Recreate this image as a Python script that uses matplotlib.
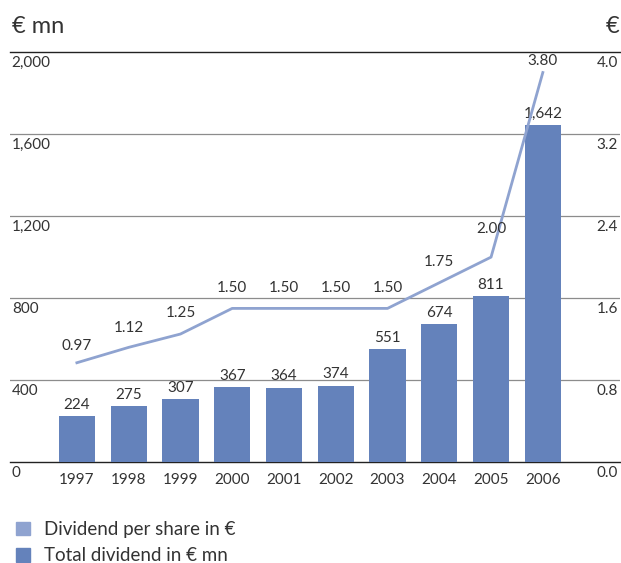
import matplotlib
matplotlib.use('Agg')
import matplotlib.pyplot as plt
from matplotlib.patches import Patch

plt.rcParams['font.family'] = ['Lato', 'DejaVu Sans']

years = ['1997', '1998', '1999', '2000', '2001', '2002', '2003', '2004', '2005', '2006']
total_div = [224, 275, 307, 367, 364, 374, 551, 674, 811, 1642]
div_per_share = [0.97, 1.12, 1.25, 1.50, 1.50, 1.50, 1.50, 1.75, 2.00, 3.80]
left_ticks = [0, 400, 800, 1200, 1600, 2000]
right_ticks = [0.0, 0.8, 1.6, 2.4, 3.2, 4.0]

bar_col = '#6482bb'
line_col = '#8fa3d0'
txt_col = '#333333'
fs = 11

fig = plt.figure(figsize=(6.21, 5.63), dpi=100)
ax = fig.add_axes([0.016, 0.179, 0.982, 0.7286])
x = list(range(len(years)))

# grid lines behind bars
for v in left_ticks:
    if v in (0, 2000):
        ax.axhline(v, color='#222222', lw=1.0, zorder=0, clip_on=False)
    else:
        ax.axhline(v, color='#8c8c8c', lw=0.9, zorder=0)

ax.bar(x, total_div, width=0.7, color=bar_col, zorder=2)
for xi, v in zip(x, total_div):
    ax.annotate(f'{v:,}', (xi, v), xytext=(0, 3), textcoords='offset points',
                ha='center', va='bottom', fontsize=fs, color=txt_col)

ax.set_xlim(-1.293, 10.486)
ax.set_ylim(0, 2000)
ax.set_xticks(x)
ax.set_xticklabels(years, fontsize=fs, color=txt_col)
ax.tick_params(axis='x', length=0, pad=8)
ax.set_yticks([])
for s in ax.spines.values():
    s.set_visible(False)

for v in left_ticks:
    ax.annotate(f'{v:,}', (0.003, v), xycoords=ax.get_yaxis_transform(),
                xytext=(0, -3), textcoords='offset points',
                ha='left', va='top', fontsize=fs, color=txt_col)

ax2 = ax.twinx()
ax2.set_ylim(0, 4)
ax2.plot(x, div_per_share, color=line_col, lw=2, zorder=3)
ax2.set_yticks([])
for s in ax2.spines.values():
    s.set_visible(False)
for v in right_ticks:
    ax2.annotate(f'{v:.1f}', (0.997, v), xycoords=ax2.get_yaxis_transform(),
                 xytext=(0, -3), textcoords='offset points',
                 ha='right', va='top', fontsize=fs, color=txt_col)

offs = [12, 14, 15, 15, 15, 15, 15, 15, 20, 8]
for xi, v, o in zip(x, div_per_share, offs):
    ax2.annotate(f'{v:.2f}', (xi, v), xytext=(0, o), textcoords='offset points',
                 ha='center', va='center', fontsize=fs, color=txt_col)

fig.text(0.019, 0.953, '€ mn', fontsize=17, color=txt_col, ha='left', va='center')
fig.text(0.997, 0.953, '€', fontsize=17, color=txt_col, ha='right', va='center')

handles = [Patch(color=line_col, label='Dividend per share in €'),
           Patch(color=bar_col, label='Total dividend in € mn')]
fig.legend(handles=handles, loc='upper left', bbox_to_anchor=(0.005, 0.098),
           frameon=False, fontsize=13.5, handlelength=0.75, handleheight=0.75,
           handletextpad=0.75, labelspacing=0.5, labelcolor=txt_col,
           borderpad=0.2)

fig.savefig('out.png', dpi=100)
